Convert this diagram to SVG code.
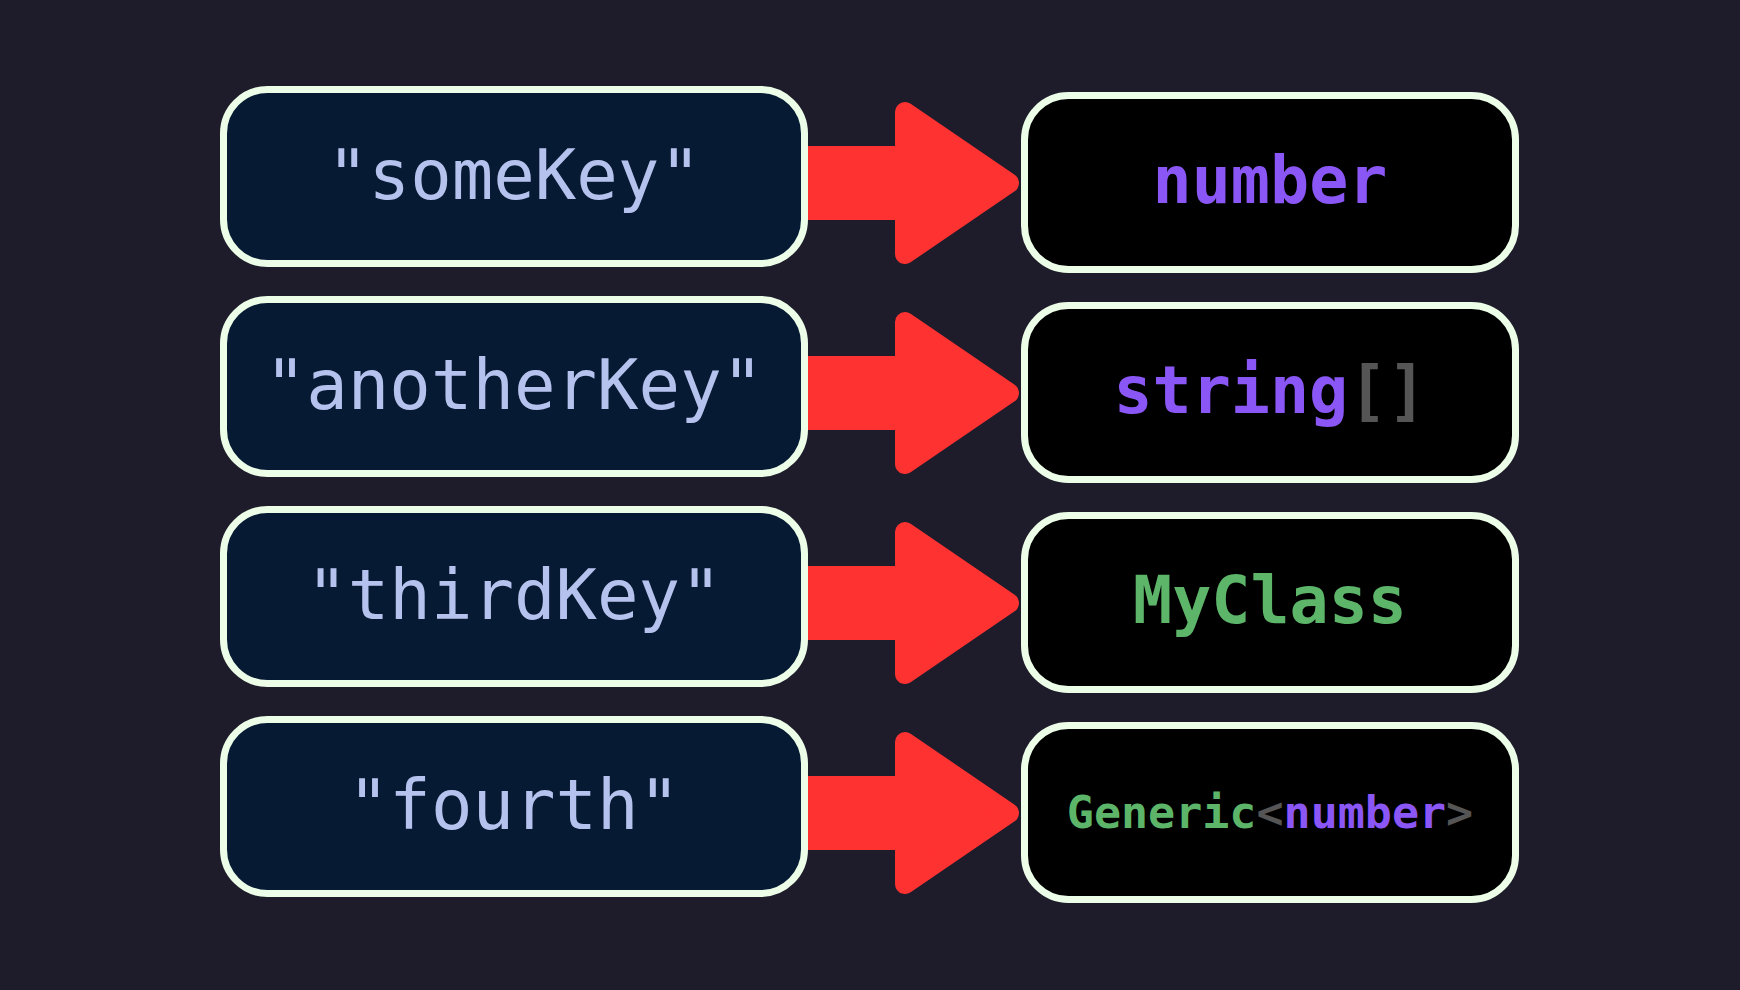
<svg xmlns="http://www.w3.org/2000/svg" xmlns:xlink="http://www.w3.org/1999/xlink" width="1740" height="990" viewBox="0 0 1740 990">
  <style>
    .key { fill: #061a33; stroke: #ecfde8; stroke-width: 7; }
    .val { fill: #000000; stroke: #ecfde8; stroke-width: 7; }
    .kt { font-family: "DejaVu Sans Mono", "Liberation Mono", monospace; font-size: 69px; fill: #b5c2ee; text-anchor: middle; }
    .vt { font-family: "DejaVu Sans Mono", "Liberation Mono", monospace; font-weight: bold; font-size: 65px; text-anchor: middle; }
    .purple { fill: #8a57f6; }
    .green { fill: #5db56a; }
    .gray { fill: #555555; }
    .arrow { fill: #ff3232; stroke: #ff3232; stroke-width: 20; stroke-linejoin: round; }
  </style>
  <defs>
    <path id="arrowShape" class="arrow" d="M800,-27 H905 V-71 L1009,0 L905,71 V27 H800 Z"/>
  </defs>
  <rect x="0" y="0" width="1740" height="990" fill="#1e1c2a"/>
  <g id="connectors">
    <use xlink:href="#arrowShape" href="#arrowShape" y="183"/>
    <use xlink:href="#arrowShape" href="#arrowShape" y="393"/>
    <use xlink:href="#arrowShape" href="#arrowShape" y="603"/>
    <use xlink:href="#arrowShape" href="#arrowShape" y="813"/>
  </g>
  <g id="key1">
    <rect class="key" x="223.5" y="89.5" width="581" height="174" rx="44"/>
    <text class="kt" x="514" y="199">"someKey"</text>
  </g>
  <g id="key2">
    <rect class="key" x="223.5" y="299.5" width="581" height="174" rx="44"/>
    <text class="kt" x="514" y="409">"anotherKey"</text>
  </g>
  <g id="key3">
    <rect class="key" x="223.5" y="509.5" width="581" height="174" rx="44"/>
    <text class="kt" x="514" y="619">"thirdKey"</text>
  </g>
  <g id="key4">
    <rect class="key" x="223.5" y="719.5" width="581" height="174" rx="44"/>
    <text class="kt" x="514" y="829">"fourth"</text>
  </g>
  <g id="val1">
    <rect class="val" x="1024.5" y="95.5" width="491" height="174" rx="44"/>
    <text class="vt purple" x="1270" y="203">number</text>
  </g>
  <g id="val2">
    <rect class="val" x="1024.5" y="305.5" width="491" height="174" rx="44"/>
    <text class="vt" x="1270" y="413"><tspan class="purple">string</tspan><tspan class="gray">[]</tspan></text>
  </g>
  <g id="val3">
    <rect class="val" x="1024.5" y="515.5" width="491" height="174" rx="44"/>
    <text class="vt green" x="1270" y="623">MyClass</text>
  </g>
  <g id="val4">
    <rect class="val" x="1024.5" y="725.5" width="491" height="174" rx="44"/>
    <text class="vt" x="1270" y="828" style="font-size:45px"><tspan class="green">Generic</tspan><tspan class="gray">&lt;</tspan><tspan class="purple">number</tspan><tspan class="gray">&gt;</tspan></text>
  </g>
</svg>
